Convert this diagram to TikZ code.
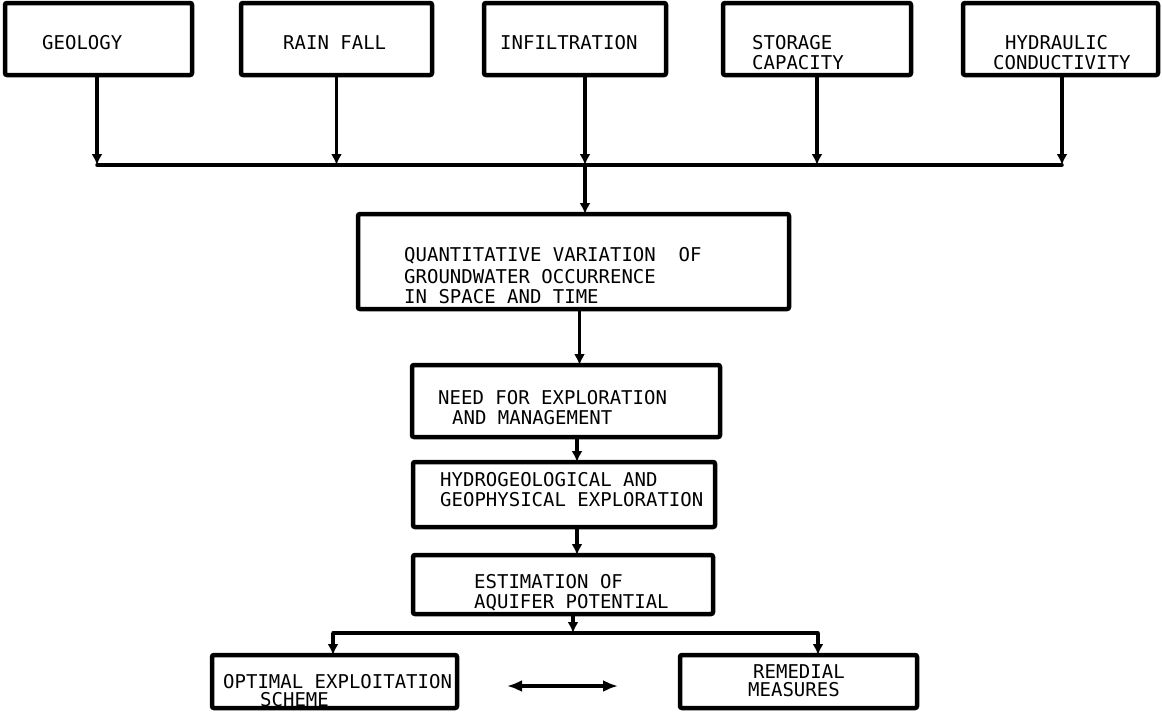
\documentclass[tikz,border=0pt]{standalone}
\usepackage{fontspec}
\newfontfamily\lgfont{DejaVu Sans Mono}
\usetikzlibrary{arrows.meta}
\begin{document}
\begin{tikzpicture}[x=1pt,y=-1pt,
  box/.style={draw,line width=4.5pt,rounded corners=2pt,inner sep=0pt,outer sep=0pt},
  txt/.style={anchor=base west,inner sep=0pt,font=\lgfont\fontsize{19}{22}\selectfont},
  conn/.style={line width=3.5pt},
  arr/.style={line width=3.5pt,-{Latex[length=11pt,width=11pt]}},
  darr/.style={line width=4pt,{Latex[length=15pt,width=12pt]}-{Latex[length=15pt,width=12pt]}}]
\fill[white] (0,0) rectangle (1162,712);
\useasboundingbox (0,0) rectangle (1162,712);

% top row boxes
\node[box,minimum width=187pt,minimum height=72pt] (geo) at (98.5,39) {};
\node[box,minimum width=191pt,minimum height=72pt] (rain) at (336.5,39) {};
\node[box,minimum width=182pt,minimum height=72pt] (infil) at (575,39) {};
\node[box,minimum width=188pt,minimum height=72pt] (stor) at (817,39) {};
\node[box,minimum width=195pt,minimum height=72pt] (hyd) at (1060.5,39) {};

\node[txt] (tgeo) at (42,49.5) {GEOLOGY};
\node[txt] (train) at (283,49.5) {RAIN FALL};
\node[txt] (tinfil) at (500,49.5) {INFILTRATION};
\node[txt] (tstor1) at (752,49.5) {STORAGE};
\node[txt] (tstor2) at (752,69.5) {CAPACITY};
\node[txt] (thyd1) at (1005,49.5) {HYDRAULIC};
\node[txt] (thyd2) at (993,69.5) {CONDUCTIVITY};

% middle boxes
\node[box,minimum width=431pt,minimum height=95pt] (quant) at (573.5,261.5) {};
\node[txt] (tq1) at (404,261.5) {QUANTITATIVE VARIATION~~OF};
\node[txt] (tq2) at (404,283.5) {GROUNDWATER OCCURRENCE};
\node[txt] (tq3) at (404,303.5) {IN SPACE AND TIME};

\node[box,minimum width=308pt,minimum height=72pt] (need) at (566,401) {};
\node[txt] (tn1) at (438,404.5) {NEED FOR EXPLORATION};
\node[txt] (tn2) at (452,424.5) {AND MANAGEMENT};

\node[box,minimum width=302pt,minimum height=65pt] (hydro) at (564,494.5) {};
\node[txt] (th1) at (440,486.5) {HYDROGEOLOGICAL AND};
\node[txt] (th2) at (440,506.5) {GEOPHYSICAL EXPLORATION};

\node[box,minimum width=300pt,minimum height=59pt] (est) at (563,584.5) {};
\node[txt] (te1) at (474,588.5) {ESTIMATION OF};
\node[txt] (te2) at (474,608.5) {AQUIFER POTENTIAL};

% bottom boxes
\node[box,minimum width=245pt,minimum height=53pt] (opt) at (334.5,681.5) {};
\node[txt] (to1) at (223,688.5) {OPTIMAL EXPLOITATION};
\node[txt] (to2) at (260,706.5) {SCHEME};

\node[box,minimum width=237pt,minimum height=53pt] (rem) at (798.5,681.5) {};
\node[txt] (tr1) at (753,678.5) {REMEDIAL};
\node[txt] (tr2) at (748,696.5) {MEASURES};

% top bus
\coordinate (busL) at (97,165);
\coordinate (busR) at (1062,165);
\coordinate (j1) at (585,165);
\draw[conn,line cap=round] (busL) -- (busR);
\draw[arr] (geo.south -| busL) -- (busL);
\draw[arr] (rain.south) -- (rain.south |- busL);
\draw[arr] (infil.south -| j1) -- (j1);
\draw[arr] (stor.south) -- (stor.south |- busL);
\draw[arr] (hyd.south -| busR) -- (busR);
\draw[arr] (j1) -- (j1 |- quant.north);

% chain
\draw[arr] ([xshift=6pt]quant.south) -- ([xshift=6pt]quant.south |- need.north);
\draw[arr] ([xshift=11pt]need.south) -- ([xshift=11pt]need.south |- hydro.north);
\draw[arr] ([xshift=13pt]hydro.south) -- ([xshift=13pt]hydro.south |- est.north);

% bottom bus
\coordinate (b2L) at (333,633);
\coordinate (b2R) at (818,633);
\coordinate (j2) at (573,633);
\draw[conn,line cap=round] (b2L) -- (b2R);
\draw[arr] (est.south -| j2) -- (j2);
\draw[arr] (b2L) -- (b2L |- opt.north);
\draw[arr] (b2R) -- (b2R |- rem.north);

% double arrow
\coordinate (dL) at (507,686);
\coordinate (dR) at (618,686);
\draw[darr] (dL) -- (dR);
\end{tikzpicture}
\end{document}
